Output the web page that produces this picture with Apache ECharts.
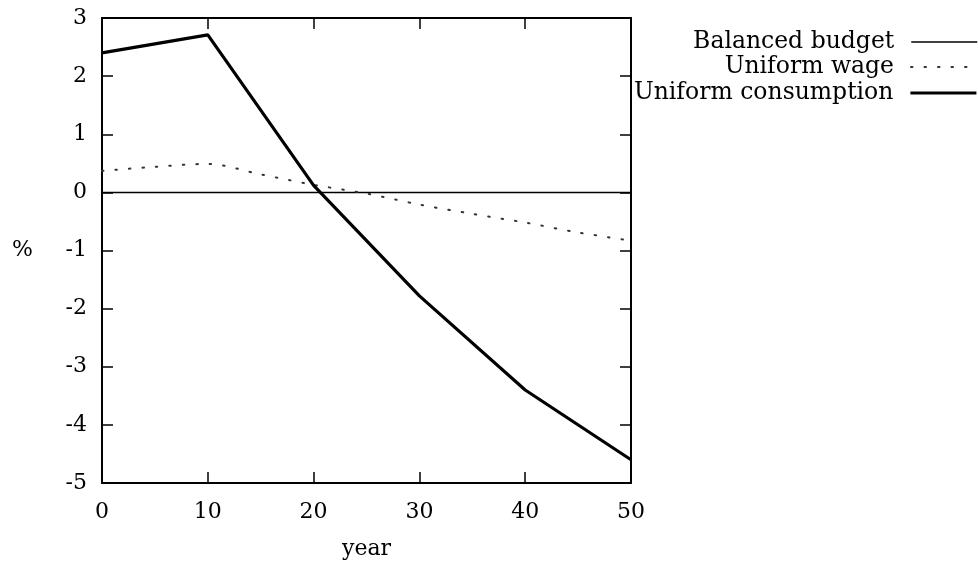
<!DOCTYPE html>
<html>
<head>
<meta charset="utf-8">
<script src="https://cdn.jsdelivr.net/npm/echarts@6/dist/echarts.min.js"></script>
<style>html,body{margin:0;padding:0;background:#fff}#c{width:978px;height:565px}</style>
</head>
<body>
<div id="c"></div>
<script>
const seriesNames = ['Balanced budget', 'Uniform wage', 'Uniform consumption'];
const balancedYears = [0, 50];
const balancedValues = [0, 0];
const wageYears = [0, 5, 10, 15, 20, 25, 30, 35, 40, 45, 50];
const wageValues = [0.37, 0.44, 0.49, 0.31, 0.13, -0.02, -0.21, -0.37, -0.52, -0.69, -0.83];
const consYears = [0, 10, 20, 30, 40, 50];
const consValues = [2.40, 2.71, 0.12, -1.78, -3.40, -4.60];
const xTicks = [0, 10, 20, 30, 40, 50];
const yTicks = [-5, -4, -3, -2, -1, 0, 1, 2, 3];

const FONT = 'DejaVu Serif';
const pairs = (xs, ys) => xs.map((x, i) => [x, ys[i]]);

const chart = echarts.init(document.getElementById('c'));
const axisLine = { show: true, onZero: false, lineStyle: { color: '#000', width: 2 } };
const tickIn = { show: true, inside: true, length: 11, lineStyle: { color: '#000', width: 1.5 } };
const styles = [
  { color: '#000', width: 1.5, type: 'solid' },
  { color: '#333', width: 2, type: [1.5, 12], cap: 'round' },
  { color: '#000', width: 3.2, type: 'solid' }
];
const legendBase = (i, top) => ({
  data: [seriesNames[i]], orient: 'vertical', right: 0, top: top, padding: 0,
  align: 'right', itemWidth: 66, itemHeight: 14, selectedMode: false,
  itemStyle: { opacity: 0 }, lineStyle: styles[i],
  textStyle: { fontFamily: FONT, fontSize: 23.5, color: '#000', padding: [0, 12, 0, 0], lineHeight: 24 }
});
chart.setOption({
  animation: false,
  grid: { left: 102, top: 18, right: 347, bottom: 80 },
  legend: [legendBase(0, 30), legendBase(1, 55), legendBase(2, 81)],
  xAxis: [{
    type: 'value', min: xTicks[0], max: xTicks[xTicks.length - 1], interval: 10, position: 'bottom',
    axisLine: axisLine, axisTick: tickIn, splitLine: { show: false },
    axisLabel: { fontFamily: FONT, fontSize: 22, color: '#000', margin: 18 },
    name: 'year', nameLocation: 'middle', nameGap: 55,
    nameTextStyle: { fontFamily: FONT, fontSize: 22, color: '#000' }
  }, {
    type: 'value', min: 0, max: 50, interval: 10, position: 'top',
    axisLine: axisLine, axisTick: tickIn, splitLine: { show: false }, axisLabel: { show: false }
  }],
  yAxis: [{
    type: 'value', min: yTicks[0], max: yTicks[yTicks.length - 1], interval: 1, position: 'left',
    axisLine: axisLine, axisTick: tickIn, splitLine: { show: false },
    axisLabel: { fontFamily: FONT, fontSize: 22, color: '#000', margin: 15 },
    name: '%', nameLocation: 'middle', nameRotate: 0, nameGap: 69,
    nameTextStyle: { fontFamily: FONT, fontSize: 22, color: '#000' }
  }, {
    type: 'value', min: -5, max: 3, interval: 1, position: 'right',
    axisLine: axisLine, axisTick: tickIn, splitLine: { show: false }, axisLabel: { show: false }
  }],
  series: [{
    name: seriesNames[0], type: 'line', data: pairs(balancedYears, balancedValues),
    symbol: 'none', lineStyle: styles[0], itemStyle: { color: '#000' }
  }, {
    name: seriesNames[1], type: 'line', smooth: 0.3, data: pairs(wageYears, wageValues),
    symbol: 'none', lineStyle: styles[1], itemStyle: { color: '#333' }
  }, {
    name: seriesNames[2], type: 'line', data: pairs(consYears, consValues),
    symbol: 'none', lineStyle: styles[2], itemStyle: { color: '#000' }
  }]
});
</script>
</body>
</html>
